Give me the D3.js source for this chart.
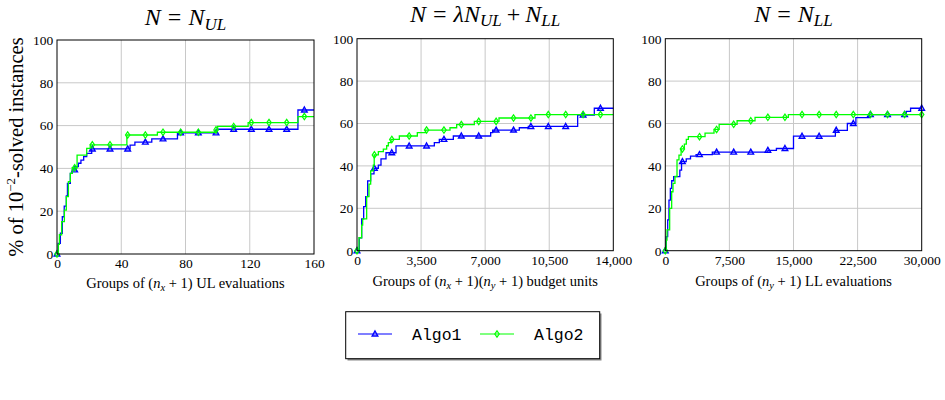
<!DOCTYPE html>
<meta charset="utf-8">
<style>
body { margin: 0; background: #fff; }
svg { display: block; }
</style>
<body>
<script src="https://cdn.jsdelivr.net/npm/d3@7"></script>
<script>
// step data [x, % solved]
var ulAlgo1 = [[0,0],[0.8,5],[2.1,9.7],[3.3,17.4],[4.5,22.4],[5.8,27.1],[6.5,33],[8.3,37.7],[9.5,39.3],[11.6,40.8],[13.3,42.4],[14.9,43.9],[16.6,45.5],[18.5,47],[21.6,49.1],[45.5,50.9],[48.5,52.3],[59,53.8],[75,56.6],[99.5,58.3],[150,67.3]];
var ulAlgo2 = [[0,0],[0.8,4.5],[1.5,9],[2.9,15.1],[4.6,20.5],[5.8,26.8],[7.1,33.8],[8.3,37.7],[9.5,40.3],[12.5,46.2],[18.5,49.4],[20.7,51],[43.5,55.6],[62.5,56.9],[99,58],[100,59.6],[119,61.4],[150,64.2]];

var budAlgo1 = [[0,0],[127,6.1],[255,15],[364,20.8],[473,25.5],[583,32.9],[747,36.2],[928,38.9],[1165,40.4],[1311,43.3],[1584,46.2],[2130,49.4],[4224,51],[4497,52.5],[5262,54.1],[7301,55.7],[7410,56.9],[8867,58],[9358,58.6],[12053,64],[12963,67.2]];
var budAlgo2 = [[0,0],[109,6.1],[255,12.1],[310,15],[528,25.5],[655,31.4],[747,37.7],[892,40.4],[940,45.2],[1165,46.7],[1438,47.9],[1620,49.5],[1711,51],[1857,52.5],[2312,54.1],[3295,55.7],[3751,56.9],[5080,58],[5444,59.5],[6409,61],[7756,62.6],[9722,64.2]];

var llAlgo1 = [[0,0],[120,6.6],[280,14.5],[430,23.9],[590,29.4],[750,33],[980,34.9],[1700,38],[1900,42],[2450,43.3],[2950,44.6],[3600,45.3],[5500,46.5],[12000,47.3],[13000,48.2],[15000,54],[19900,56.8],[21300,60],[22300,62.8],[23900,64.2],[28200,65.7],[28700,67.2]];
var llAlgo2 = [[0,0],[100,5],[200,9.8],[510,20],[745,27.8],[900,31.8],[1130,35],[1370,42.8],[1600,45.1],[1850,48],[2230,50.3],[2460,52.5],[2700,53.8],[4650,55.5],[5700,57.2],[6300,59.6],[8400,61.3],[10500,62.9],[14400,64.2]];

var xMax = [160, 14000, 30000];
var markStep = [11, 950, 2000];
var xTicksUL = [0, 40, 80, 120, 160];
var xTicksBud = [0, 3500, 7000, 10500, 14000];
var xTicksLL = [0, 7500, 15000, 22500, 30000];
var yTicks = [0, 20, 40, 60, 80, 100];
var seriesNames = ["Algo1", "Algo2"];
var colors = ["#0000ff", "#00ff00"];

var SERIF = "'Liberation Serif'";
var MONO = "'Liberation Mono'";

var W = 945, H = 400;
var svg = d3.select("body").append("svg").attr("width", W).attr("height", H);

var panels = [
  {left: 57, right: 314, top: 40, bottom: 254, titleY: 25, labelY: 287.5, xMax: xMax[0], step: markStep[0], ticks: xTicksUL, data: [ulAlgo1, ulAlgo2]},
  {left: 357, right: 613.3, top: 38.7, bottom: 250.7, titleY: 21.7, labelY: 286, xMax: xMax[1], step: markStep[1], ticks: xTicksBud, data: [budAlgo1, budAlgo2]},
  {left: 665.3, right: 921.7, top: 38.7, bottom: 250.7, titleY: 21.7, labelY: 286, xMax: xMax[2], step: markStep[2], ticks: xTicksLL, data: [llAlgo1, llAlgo2]}
];

function stepValue(d, x) {
  var v = d[0][1];
  for (var i = 0; i < d.length; i++) { if (d[i][0] <= x) v = d[i][1]; }
  return v;
}

function triangle(g, x, y, c) {
  g.append("path").attr("d", "M" + x + "," + (y - 3) + "L" + (x + 2.8) + "," + (y + 2) + "L" + (x - 2.8) + "," + (y + 2) + "Z")
    .attr("fill", "none").attr("stroke", c).attr("stroke-width", 1.4);
}
function diamond(g, x, y, c) {
  g.append("path").attr("d", "M" + x + "," + (y - 3.2) + "L" + (x + 2.2) + "," + y + "L" + x + "," + (y + 3.2) + "L" + (x - 2.2) + "," + y + "Z")
    .attr("fill", "none").attr("stroke", c).attr("stroke-width", 1.2);
}
var markers = [triangle, diamond];

panels.forEach(function (p) {
  var x = d3.scaleLinear().domain([0, p.xMax]).range([p.left, p.right]);
  var y = d3.scaleLinear().domain([0, 100]).range([p.bottom, p.top]);
  var g = svg.append("g");

  // grid
  var grid = g.append("g").attr("stroke", "#c8c8c8").attr("stroke-width", 1);
  grid.selectAll(".gx").data(p.ticks.slice(1, -1)).enter().append("line")
    .attr("x1", function (d) { return x(d); }).attr("x2", function (d) { return x(d); })
    .attr("y1", p.top).attr("y2", p.bottom);
  grid.selectAll(".gy").data(yTicks.slice(1, -1)).enter().append("line")
    .attr("x1", p.left).attr("x2", p.right)
    .attr("y1", function (d) { return y(d); }).attr("y2", function (d) { return y(d); });

  // axes (labels only)
  var xa = g.append("g").attr("transform", "translate(0," + p.bottom + ")")
    .call(d3.axisBottom(x).tickValues(p.ticks).tickFormat(d3.format(",")).tickSize(0).tickPadding(4.5));
  xa.select(".domain").remove();
  var ya = g.append("g").attr("transform", "translate(" + p.left + ",0)")
    .call(d3.axisLeft(y).tickValues(yTicks).tickSize(0).tickPadding(3.7));
  ya.select(".domain").remove();
  g.selectAll(".tick text").style("font-family", SERIF).style("font-size", "13.5px").attr("fill", "#000");

  // curves
  var line = d3.line().x(function (d) { return x(d[0]); }).y(function (d) { return y(d[1]); }).curve(d3.curveStepAfter);
  p.data.forEach(function (d, i) {
    var pts = d.concat([[p.xMax, d[d.length - 1][1]]]);
    g.append("path").datum(pts).attr("d", line)
      .attr("fill", "none").attr("stroke", colors[i]).attr("stroke-width", 1.3);
    for (var mx = 0; mx <= p.xMax; mx += p.step) {
      markers[i](g, x(mx), y(stepValue(d, mx)), colors[i]);
    }
  });

  g.append("rect").attr("fill", "none").attr("stroke", "#000").attr("stroke-width", 1)
    .attr("x", p.left).attr("y", p.top).attr("width", p.right - p.left).attr("height", p.bottom - p.top);
  p.cx = (p.left + p.right) / 2;
});

// titles
function title(p, parts) {
  var t = svg.append("text").attr("x", p.cx).attr("y", p.titleY).attr("text-anchor", "middle")
    .style("font-family", SERIF).style("font-size", "24px");
  var shifted = false;
  parts.forEach(function (s) {
    var ts = t.append("tspan").text(s.t);
    if (s.i) ts.style("font-style", "italic");
    if (s.sub) { ts.style("font-size", "17px"); if (!shifted) ts.attr("dy", 4.5); shifted = true; }
    else if (shifted) { ts.attr("dy", -4.5); shifted = false; }
    if (s.dx) ts.attr("dx", s.dx);
  });
}
title(panels[0], [{t: "N", i: 1}, {t: "=", dx: 7}, {t: "N", i: 1, dx: 7}, {t: "UL", i: 1, sub: 1}]);
title(panels[1], [{t: "N", i: 1}, {t: "=", dx: 7}, {t: "\u03bbN", i: 1, dx: 7}, {t: "UL", i: 1, sub: 1}, {t: "+", dx: 5}, {t: "N", i: 1, dx: 5}, {t: "LL", i: 1, sub: 1}]);
title(panels[2], [{t: "N", i: 1}, {t: "=", dx: 7}, {t: "N", i: 1, dx: 7}, {t: "LL", i: 1, sub: 1}]);

// x labels
function xlabel(p, parts) {
  var t = svg.append("text").attr("x", p.cx).attr("y", p.labelY).attr("text-anchor", "middle")
    .style("font-family", SERIF).style("font-size", "14.5px");
  var shifted = false;
  parts.forEach(function (s) {
    var ts = t.append("tspan").text(s.t);
    if (s.i) ts.style("font-style", "italic");
    if (s.sub) { ts.style("font-size", "10.5px").attr("dy", 3); shifted = true; }
    else if (shifted) { ts.attr("dy", -3); shifted = false; }
  });
}
xlabel(panels[0], [{t: "Groups of ("}, {t: "n", i: 1}, {t: "x", i: 1, sub: 1}, {t: " + 1) UL evaluations"}]);
xlabel(panels[1], [{t: "Groups of ("}, {t: "n", i: 1}, {t: "x", i: 1, sub: 1}, {t: " + 1)("}, {t: "n", i: 1}, {t: "y", i: 1, sub: 1}, {t: " + 1) budget units"}]);
xlabel(panels[2], [{t: "Groups of ("}, {t: "n", i: 1}, {t: "y", i: 1, sub: 1}, {t: " + 1) LL evaluations"}]);

// y label
var yl = svg.append("text").attr("text-anchor", "middle")
  .attr("transform", "translate(23,147) rotate(-90)")
  .style("font-family", SERIF).style("font-size", "20.5px");
yl.append("tspan").text("% of 10");
yl.append("tspan").text("\u22122").style("font-size", "13px").attr("dy", -8);
yl.append("tspan").text("-solved instances").attr("dy", 8);

// legend
var lg = svg.append("g");
lg.append("rect").attr("x", 347.5).attr("y", 313.5).attr("width", 254).attr("height", 47).attr("fill", "#888");
lg.append("rect").attr("x", 345.7).attr("y", 311.7).attr("width", 254).attr("height", 47).attr("fill", "#fff").attr("stroke", "#000");
var legX = [358, 480];
seriesNames.forEach(function (n, i) {
  lg.append("line").attr("x1", legX[i]).attr("x2", legX[i] + 34).attr("y1", 334).attr("y2", 334)
    .attr("stroke", colors[i]).attr("stroke-width", 1.2);
  markers[i](lg, legX[i] + 17, 334, colors[i]);
  lg.append("text").attr("x", legX[i] + 54).attr("y", 339.5).text(n)
    .style("font-family", MONO).style("font-size", "16.5px");
});
</script>
</body>
